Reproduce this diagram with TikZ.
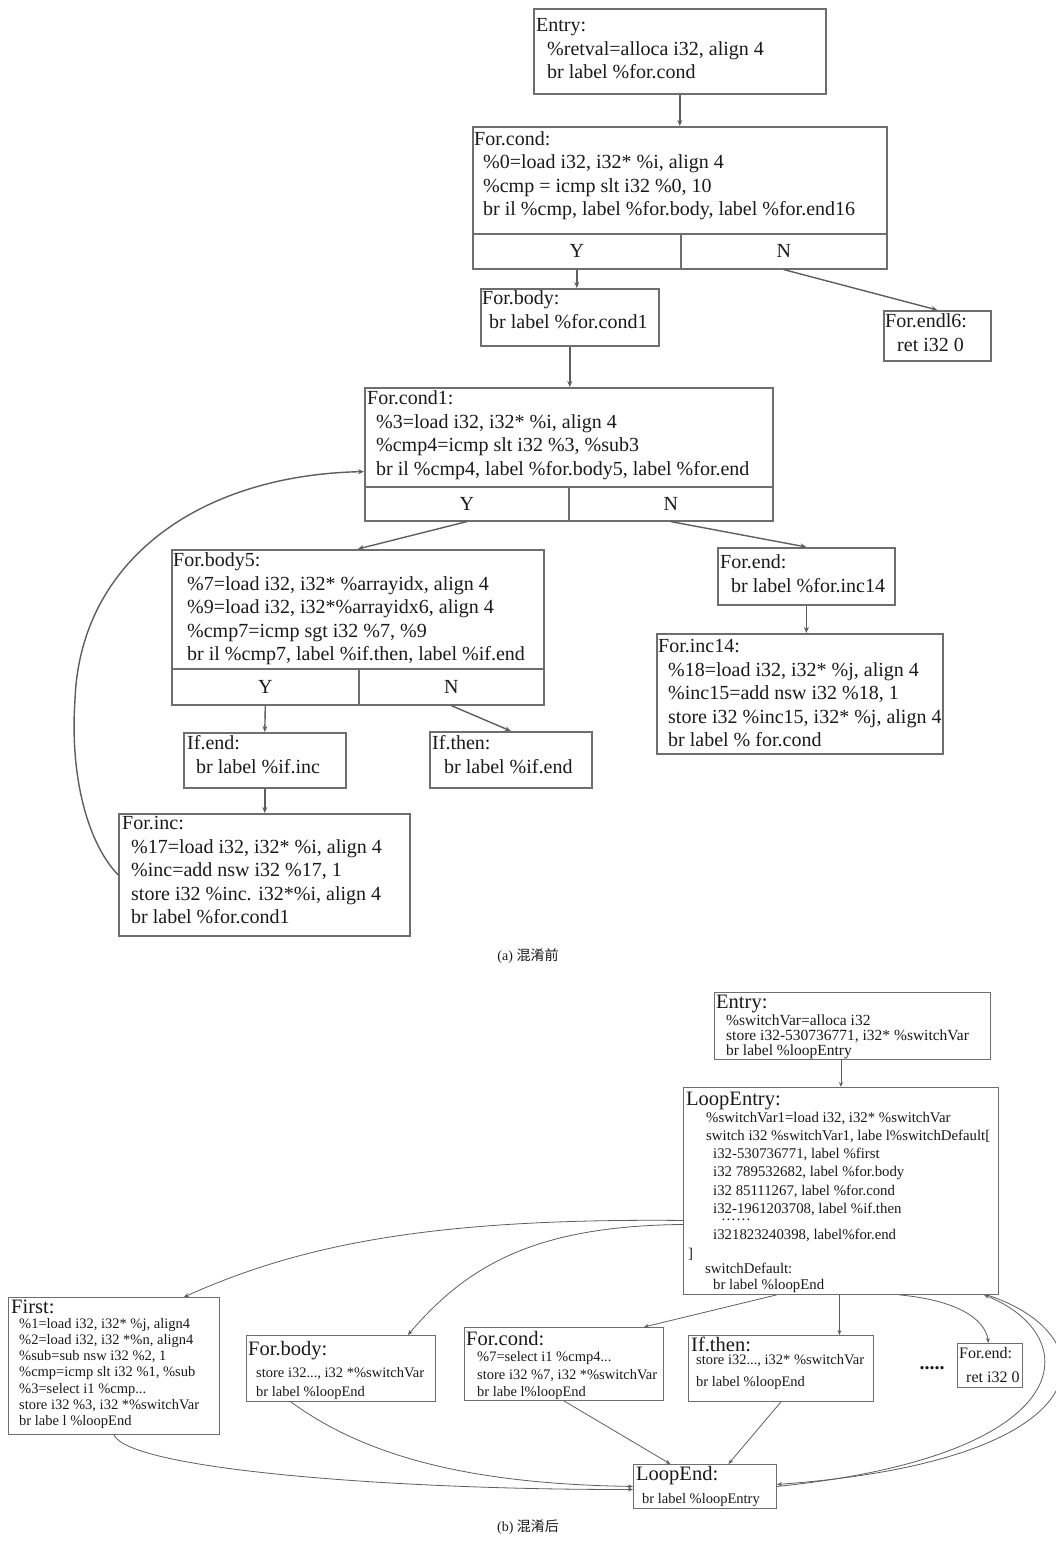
\documentclass[tikz,border=0pt]{standalone}
\usepackage{fontspec}
\setmainfont{Liberation Serif}
\newfontfamily\cjkfont{Noto Sans CJK SC}
\usetikzlibrary{arrows.meta,calc}
\definecolor{boxgray}{HTML}{6E6E6E}
\definecolor{linegray}{HTML}{5E5E5E}
\definecolor{txtblack}{HTML}{1A1A1A}
\newcommand{\myind}[1]{\hspace*{#1pt}}
\newcommand{\fl}{\rule{0pt}{16pt}}
\begin{document}
\begin{tikzpicture}[x=1pt,y=-1pt,
  sz/.style 2 args={minimum width=#1pt, minimum height=#2pt},
  boxA/.style={draw=boxgray, line width=1.6pt, anchor=north west, inner sep=0pt},
  boxB/.style={draw=boxgray, line width=0.9pt, anchor=north west, inner sep=0pt},
  cellA/.style={boxA, font=\fontsize{20}{23.5}\selectfont, text=txtblack},
  txA/.style={anchor=north west, inner sep=0pt, align=left, text=txtblack, font=\fontsize{20}{23.5}\selectfont},
  txB/.style={anchor=north west, inner sep=0pt, align=left, text=txtblack, font=\fontsize{14.5}{18.2}\selectfont},
  arrA/.style={draw=linegray, line width=1.4pt, -{Stealth[length=6pt,width=5pt]}},
  arrB/.style={draw=linegray, line width=0.8pt, -{Stealth[length=5pt,width=4pt]}},
  captxt/.style={text=txtblack, inner sep=0pt, font=\fontsize{14}{16}\selectfont}
]
\useasboundingbox (0,0) rectangle (1056,1542);
\fill[white] (0,0) rectangle (1056,1542);

% ================= (a) =================
\node[boxA, sz={292}{85}] (aEntry) at (533,8) {};
\node[txA] (aEntryT) at (536,15.6) {\fl Entry:\\\myind{11}\%retval=alloca i32, align 4\\\myind{11}br label \%for.cond};

\node[boxA, sz={414}{107}] (aCond) at (472,126) {};
\node[cellA, sz={208}{35}] (aCondY) at (472,233) {Y};
\node[cellA, sz={206}{35}] (aCondN) at (680,233) {N};
\node[txA] (aCondT) at (474,129) {\fl For.cond:\\\myind{9}\%0=load i32, i32* \%i, align 4\\\myind{9}\%cmp = icmp slt i32 \%0, 10\\\myind{9}br il \%cmp, label \%for.body, label \%for.end16};

\node[boxA, sz={178}{57}] (aBody) at (480,288) {};
\node[txA] (aBodyT) at (482,288.6) {\fl For.body:\\\myind{7}br label \%for.cond1};

\node[boxA, sz={107}{50}] (aEnd16) at (883,310) {};
\node[txA] (aEnd16T) at (885,311.6) {\fl For.endl6:\\\myind{12}ret i32 0};

\node[boxA, sz={408}{99}] (aCond1) at (364,387) {};
\node[cellA, sz={204}{34}] (aCond1Y) at (364,486) {Y};
\node[cellA, sz={204}{34}] (aCond1N) at (568,486) {N};
\node[txA] (aCond1T) at (367,388.6) {\fl For.cond1:\\\myind{9}\%3=load i32, i32* \%i, align 4\\\myind{9}\%cmp4=icmp slt i32 \%3, \%sub3\\\myind{9}br il \%cmp4, label \%for.body5, label \%for.end};

\node[boxA, sz={372}{119}] (aBody5) at (171,549) {};
\node[cellA, sz={187}{36}] (aBody5Y) at (171,668) {Y};
\node[cellA, sz={185}{36}] (aBody5N) at (358,668) {N};
\node[txA] (aBody5T) at (173,550.6) {\fl For.body5:\\\myind{14}\%7=load i32, i32* \%arrayidx, align 4\\\myind{14}\%9=load i32, i32*\%arrayidx6, align 4\\\myind{14}\%cmp7=icmp sgt i32 \%7, \%9\\\myind{14}br il \%cmp7, label \%if.then, label \%if.end};

\node[boxA, sz={177}{57}] (aEnd) at (717,547) {};
\node[txA] (aEndT) at (720,552.6) {\fl For.end:\\\myind{11}br label \%for.inc14};

\node[boxA, sz={286}{120}] (aInc14) at (656,633) {};
\node[txA] (aInc14T) at (658,636.6) {\fl For.inc14:\\\myind{10}\%18=load i32, i32* \%j, align 4\\\myind{10}\%inc15=add nsw i32 \%18, 1\\\myind{10}store i32 \%inc15, i32* \%j, align 4\\\myind{10}br label \% for.cond};

\node[boxA, sz={162}{55}] (aIfend) at (183,732) {};
\node[txA] (aIfendT) at (187,733.6) {\fl If.end:\\\myind{9}br label \%if.inc};

\node[boxA, sz={162}{56}] (aIfthen) at (429,731) {};
\node[txA] (aIfthenT) at (432,733.6) {\fl If.then:\\\myind{12}br label \%if.end};

\node[boxA, sz={291}{122}] (aInc) at (118,813) {};
\node[txA] (aIncT) at (122,813.6) {\fl For.inc:\\\myind{9}\%17=load i32, i32* \%i, align 4\\\myind{9}\%inc=add nsw i32 \%17, 1\\\myind{9}store i32 \%inc. i32*\%i, align 4\\\myind{9}br label \%for.cond1};

\draw[arrA] (aEntry.south) -- (aCond.north);
\draw[arrA] (aCondY.south) -- (aCondY.south |- aBody.north);
\draw[arrA] (aCondN.south) -- (aEnd16.north);
\draw[arrA] (aBody.south) -- (aBody.south |- aCond1.north);
\draw[arrA] (aCond1Y.south) -- (aBody5.north);
\draw[arrA] (aCond1N.south) -- (aEnd.north);
\draw[arrA] (aEnd.south) -- (aEnd.south |- aInc14.north);
\draw[arrA] (aBody5Y.south) -- (aIfend.north);
\draw[arrA] (aBody5N.south) -- (aIfthen.north);
\draw[arrA] (aIfend.south) -- (aIfend.south |- aInc.north);
\draw[arrA] (aInc.west) .. controls (85,840) and (70,770) .. (75,700) .. controls (80,560) and (200,475) .. ([yshift=16pt]aCond1.south west);

\node[captxt] (capA) at (528,956) {(a) {\cjkfont 混淆前}};

% ================= (b) =================
\node[boxB, sz={276}{67}] (bEntry) at (714,992) {};
\node[txB, font=\fontsize{15.5}{15}\selectfont] (bEntryT) at (716,992) {\fl{\fontsize{20.5}{20.5}\selectfont Entry:}\\[1pt]\myind{10}\%switchVar=alloca i32\\\myind{10}store i32-530736771, i32* \%switchVar\\\myind{10}br label \%loopEntry};

\node[boxB, sz={315}{207}] (bLoop) at (683,1087) {};
\node[txB, font=\fontsize{14.8}{18.2}\selectfont] (bLoopT) at (686,1089) {\fl{\fontsize{20.5}{20.5}\selectfont LoopEntry:}\\[-1.2pt]%
\myind{20}\%switchVar1=load i32, i32* \%switchVar\\
\myind{20}switch i32 \%switchVar1, labe l\%switchDefault[\\
\myind{27}i32-530736771, label \%first\\
\myind{27}i32 789532682, label \%for.body\\
\myind{27}i32 85111267, label \%for.cond\\
\myind{27}i32-1961203708, label \%if.then\\[-11pt]
\myind{35}……\\[1.1pt]
\myind{27}i321823240398, label\%for.end\\[0.3pt]
\myind{2}]\\[-2.7pt]
\myind{19}switchDefault:\\[-2.7pt]
\myind{27}br label \%loopEnd};

\node[boxB, sz={211}{137}] (bFirst) at (8,1297) {};
\node[txB, font=\fontsize{14.5}{16.2}\selectfont] (bFirstT) at (11,1297) {\fl{\fontsize{20.5}{20.5}\selectfont First:}\\[-1.2pt]%
\myind{8}\%1=load i32, i32* \%j, align4\\
\myind{8}\%2=load i32, i32 *\%n, align4\\
\myind{8}\%sub=sub nsw i32 \%2, 1\\
\myind{8}\%cmp=icmp slt i32 \%1, \%sub\\
\myind{8}\%3=select i1 \%cmp...\\
\myind{8}store i32 \%3, i32 *\%switchVar\\
\myind{8}br labe l \%loopEnd};

\node[boxB, sz={189}{66}] (bBody) at (246,1335) {};
\node[txB, font=\fontsize{14.5}{19}\selectfont] (bBodyT) at (248,1339) {\fl{\fontsize{20.5}{20.5}\selectfont For.body:}\\[3pt]%
\myind{8}store i32..., i32 *\%switchVar\\
\myind{8}br label \%loopEnd};

\node[boxB, sz={199}{73}] (bCond) at (464,1327) {};
\node[txB, font=\fontsize{14.5}{17.5}\selectfont] (bCondT) at (466,1329) {\fl{\fontsize{20.5}{20.5}\selectfont For.cond:}\\[-1pt]%
\myind{11}\%7=select i1 \%cmp4...\\
\myind{11}store i32 \%7, i32 *\%switchVar\\
\myind{11}br labe l\%loopEnd};

\node[boxB, sz={185}{66}] (bIfthen) at (688,1335) {};
\node[txB, font=\fontsize{14.5}{21.5}\selectfont] (bIfthenT) at (691,1335) {\fl{\fontsize{20.5}{20.5}\selectfont If.then:}\\[-8pt]%
\myind{5}store i32..., i32* \%switchVar\\
\myind{5}br label \%loopEnd};

\node[font=\bfseries\fontsize{20}{20}\selectfont, text=txtblack, inner sep=0pt] (bDots) at (932,1368) {.....};

\node[boxB, sz={65}{44}] (bForend) at (957,1343) {};
\node[txB, font=\fontsize{16}{24}\selectfont] (bForendT) at (959,1342) {\fl For.end:\\\myind{7}ret i32 0};

\node[boxB, sz={143}{44}] (bLoopEnd) at (633,1464) {};
\node[txB, font=\fontsize{14.5}{23.5}\selectfont] (bLoopEndT) at (636,1464) {\fl{\fontsize{20.5}{20.5}\selectfont LoopEnd:}\\%
\myind{6}br label \%loopEntry};

\draw[arrB] (bLoop.north |- bEntry.south) -- (bLoop.north);
\draw[arrB] ([yshift=-29.5pt]bLoop.west) .. controls (430,1218) and (300,1245) .. ([xshift=-36pt]bFirst.north east);
\draw[arrB] ([yshift=-33.5pt]bLoop.west) .. controls (540,1226) and (470,1262) .. ([xshift=-28pt]bBody.north east);
\draw[arrB] ([xshift=-64.5pt]bLoop.south) -- ([xshift=-20pt]bCond.north east);
\draw[arrB] ([xshift=-1.5pt]bLoop.south) -- ([xshift=-1.5pt]bLoop.south |- bIfthen.north);
\draw[arrB] ([xshift=58.5pt]bLoop.south) .. controls (955,1300) and (985,1318) .. ([xshift=-1.5pt]bForend.north);
\draw[arrB] ([xshift=-12pt]bLoop.south east) .. controls (1110,1335) and (1110,1460) .. ([yshift=2pt]bLoopEnd.east);
\draw[arrB] (bLoopEnd.east) .. controls (1085,1455) and (1085,1335) .. ([xshift=-15pt]bLoop.south east);
\draw[arrB] (bFirst.south) .. controls (130,1470) and (400,1490) .. ([yshift=-3pt]bLoopEnd.west);
\draw[arrB] ([xshift=-50pt]bBody.south) .. controls (370,1460) and (480,1484) .. (bLoopEnd.west);
\draw[arrB] (bCond.south) -- ([xshift=-34.5pt]bLoopEnd.north);
\draw[arrB] (bIfthen.south) -- ([xshift=23.5pt]bLoopEnd.north);

\node[captxt] (capB) at (528,1527) {(b) {\cjkfont 混淆后}};
\end{tikzpicture}
\end{document}
